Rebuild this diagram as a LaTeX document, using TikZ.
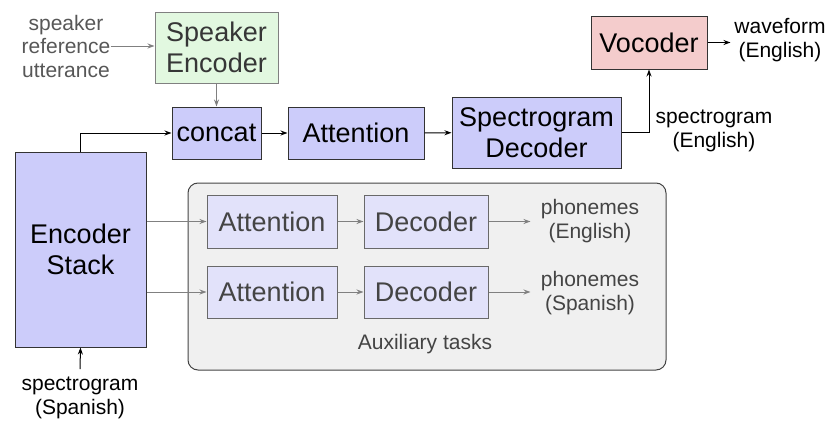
\documentclass[tikz,border=0pt]{standalone}
\usepackage{fontspec}
\setmainfont{Liberation Sans}
\usetikzlibrary{arrows.meta}
\definecolor{mainfill}{HTML}{CCCCFA}
\definecolor{auxfill}{HTML}{E2E2FA}
\definecolor{spkfill}{HTML}{E2F8E0}
\definecolor{vocfill}{HTML}{F4CCCC}
\definecolor{grayline}{HTML}{808080}
\definecolor{graytext}{HTML}{444444}
\definecolor{panelfill}{HTML}{F0F0F0}
\tikzset{
  big/.style={font=\fontsize{27}{31}\selectfont, align=center, inner sep=0pt},
  small/.style={font=\fontsize{21}{23.5}\selectfont, align=center, inner sep=0pt},
  mainbox/.style={big, draw=black!80, line width=1pt, fill=mainfill},
  auxbox/.style={big, draw=graytext!80, line width=1pt, fill=auxfill, text=graytext},
  arr/.style={line width=1pt, -{Stealth[length=7pt,width=5pt]}},
  garr/.style={arr, draw=grayline},
}
\begin{document}
\begin{tikzpicture}[x=1pt,y=-1pt]
\useasboundingbox (0,0) rectangle (831,423);
% aux panel
\node[draw=graytext, line width=1pt, fill=panelfill, rounded corners=10pt, minimum width=478, minimum height=187, inner sep=0pt] (panel) at (427,276.5) {};
% top row
\node[big, draw=grayline, line width=1pt, fill=spkfill, text=graytext!80!black, minimum width=123, minimum height=71] (spk) at (216.5,47.5) {Speaker\\Encoder};
\node[mainbox, minimum width=89, minimum height=52] (concat) at (216.5,133) {concat};
\node[mainbox, minimum width=136, minimum height=52] (att) at (356,133) {Attention};
\node[mainbox, minimum width=169, minimum height=71] (spec) at (536.5,132.5) {Spectrogram\\Decoder};
\node[big, draw=black!80, line width=1pt, fill=vocfill, minimum width=116, minimum height=53] (voc) at (649,42.5) {Vocoder};
\node[mainbox, minimum width=131, minimum height=195] (enc) at (80.5,249.5) {Encoder\\Stack};
% aux boxes
\node[auxbox, minimum width=130, minimum height=53] (a1) at (272,221.5) {Attention};
\node[auxbox, minimum width=124, minimum height=53] (d1) at (426,221.5) {Decoder};
\node[auxbox, minimum width=130, minimum height=52] (a2) at (272,292) {Attention};
\node[auxbox, minimum width=124, minimum height=52] (d2) at (426,292) {Decoder};
% labels
\node[small, text=graytext!90] (ref) at (66,46) {speaker\\reference\\utterance};
\node[small] (wave) at (780,40) {waveform\\(English)};
\node[small] (specen) at (714,131) {spectrogram\\(English)};
\node[small] (specsp) at (80,398) {spectrogram\\(Spanish)};
\node[small, text=graytext] (p1) at (590,221) {phonemes\\(English)};
\node[small, text=graytext] (p2) at (590,293) {phonemes\\(Spanish)};
\node[small, text=graytext] (auxlbl) at (425,344) {Auxiliary tasks};
% connectors
\draw[garr] (ref.east |- 0,46) -- (spk.west |- 0,46);
\draw[garr] (spk) -- (concat);
\draw[arr] (enc.north) |- (concat.west);
\draw[arr] (concat) -- (att);
\draw[arr] (att) -- (spec);
\draw[arr] (spec.east) -| (voc.south);
\draw[arr] (voc.east) -- ++(23,0) coordinate (wend);
\draw[arr] (specsp.north) ++(0,-8) coordinate (sst) -- (enc.south);
\draw[garr] (enc.east |- a1) -- (a1.west);
\draw[garr] (enc.east |- a2) -- (a2.west);
\draw[garr] (a1) -- (d1);
\draw[garr] (a2) -- (d2);
\draw[garr] (d1.east) -- ++(42,0) coordinate (e1);
\draw[garr] (d2.east) -- ++(42,0) coordinate (e2);
\end{tikzpicture}
\end{document}
